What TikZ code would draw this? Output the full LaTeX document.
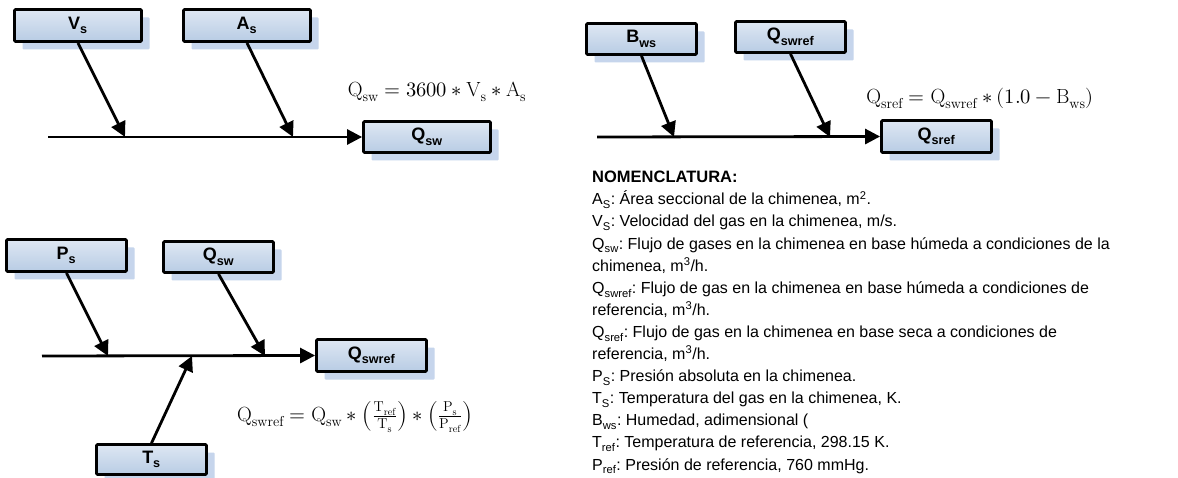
\documentclass[tikz,border=0pt]{standalone}
\usepackage{fontspec}
\usepackage{unicode-math}
\setmathfont{Latin Modern Math}
\newfontfamily\arial{Liberation Sans}
\usetikzlibrary{arrows.meta,shadows,backgrounds}
\definecolor{boxtop}{RGB}{222,231,243}
\definecolor{boxbot}{RGB}{184,204,228}
\definecolor{shadowblue}{RGB}{198,213,236}
\frenchspacing
\tikzset{
  box/.style={draw=black, line width=2.8pt, rounded corners=1pt, top color=boxtop, bottom color=boxbot,
    minimum height=31pt, inner sep=0pt, font=\arial\bfseries\fontsize{18}{20}\selectfont,
    drop shadow={shadow xshift=8pt, shadow yshift=-8pt, fill=shadowblue, opacity=1}},
  arr/.style={line width=2.8pt, -{Triangle[length=15pt,width=15pt]}},
  shad/.style={draw=shadowblue, line width=4pt, -{Triangle[length=15pt,width=17pt]},
    transform canvas={shift={(7pt,-7pt)}}},
  fml/.style={font=\fontsize{20.5}{24}\selectfont, inner sep=0pt},
  nom/.style={font=\arial\fontsize{16}{22.1}\selectfont, align=left, inner sep=0pt, anchor=north west},
}
\begin{document}
\begin{tikzpicture}[x=1pt,y=-1pt]
\fill[white] (0,0) rectangle (1178,478);
\useasboundingbox (0,0) rectangle (1178,478);

% ---------- diagram 1 ----------
\node[box, minimum width=127pt, minimum height=32pt] (Vs) at (78,25.5) {V\textsubscript{s}};
\node[box, minimum width=127pt, minimum height=32pt] (As) at (247,25.5) {A\textsubscript{s}};
\node[box, minimum width=127pt] (Qsw) at (427,137) {Q\textsubscript{sw}};
\coordinate (l1s) at (48,137);
\coordinate (j1a) at (125,137);
\coordinate (j1b) at (293,137);
\draw[arr] (Vs.south) -- (j1a);
\draw[arr] (As.south) -- (j1b);
\draw[arr] (l1s) -- (Qsw.west);
\node[fml] (f1) at (437,92) {$\mathrm{Q_{sw}} = 3600 * \mathrm{V_s} * \mathrm{A_s}$};

% ---------- diagram 2 ----------
\node[box, minimum width=110pt] (Bws) at (641.5,39) {B\textsubscript{ws}};
\node[box, minimum width=110pt] (Qswrefa) at (790.5,37) {Q\textsubscript{swref}};
\node[box, minimum width=110pt, minimum height=32pt] (Qsref) at (936.5,136.5) {Q\textsubscript{sref}};
\coordinate (l2s) at (597,137);
\coordinate (j2a) at (674,137);
\coordinate (j2b) at (830,137);
\draw[arr] (Bws.south) -- (j2a);
\draw[arr] (Qswrefa.south) -- (j2b);
\draw[arr] (l2s) -- (Qsref.west);
\node[fml] (f2) at (980,98) {$\mathrm{Q_{sref}} = \mathrm{Q_{swref}} * (1.0 - \mathrm{B_{ws}})$};

% ---------- diagram 3 ----------
\node[box, minimum width=120pt, minimum height=32pt] (Ps) at (66.5,255.5) {P\textsubscript{s}};
\node[box, minimum width=110pt] (Qswb) at (218.5,257) {Q\textsubscript{sw}};
\node[box, minimum width=110pt, minimum height=32pt] (Qswrefb) at (371.5,355.5) {Q\textsubscript{swref}};
\node[box, minimum width=110pt, minimum height=30pt] (Ts) at (151.5,459.5) {T\textsubscript{s}};
\coordinate (l3s) at (42,356);
\coordinate (j3a) at (108,356);
\coordinate (j3b) at (265,356);
\coordinate (j3c) at (192,356);
\draw[arr] (Ps.south) -- (j3a);
\draw[arr] (Qswb.south) -- (j3b);
\draw[arr] (Ts.north) -- (j3c);
\draw[arr] (l3s) -- (Qswrefb.west);
\node[fml] (f3) at (355,417) {$\mathrm{Q_{swref}} = \mathrm{Q_{sw}} * \left(\frac{\mathrm{T_{ref}}}{\mathrm{T_s}}\right) * \left(\frac{\mathrm{P_s}}{\mathrm{P_{ref}}}\right)$};

% ---------- shadows of connectors ----------
\begin{pgfonlayer}{background}
\draw[shad] (Vs.south) -- (j1a);
\draw[shad] (As.south) -- (j1b);
\draw[shad] (l1s) -- (Qsw.west);
\draw[shad] (Bws.south) -- (j2a);
\draw[shad] (Qswrefa.south) -- (j2b);
\draw[shad] (l2s) -- (Qsref.west);
\draw[shad] (Ps.south) -- (j3a);
\draw[shad] (Qswb.south) -- (j3b);
\draw[shad] (Ts.north) -- (j3c);
\draw[shad] (l3s) -- (Qswrefb.west);
\end{pgfonlayer}

% ---------- nomenclature ----------
\node[nom] (nomen) at (592,171) {{\fontsize{16.5}{22.1}\selectfont\bfseries NOMENCLATURA:}\\
A\textsubscript{S}: Área seccional de la chimenea, m\textsuperscript{2}.\\
V\textsubscript{S}: Velocidad del gas en la chimenea, m/s.\\
Q\textsubscript{sw}: Flujo de gases en la chimenea en base húmeda a condiciones de la\\
chimenea, m\textsuperscript{3}/h.\\
Q\textsubscript{swref}: Flujo de gas en la chimenea en base húmeda a condiciones de\\
referencia, m\textsuperscript{3}/h.\\
Q\textsubscript{sref}: Flujo de gas en la chimenea en base seca a condiciones de\\
referencia, m\textsuperscript{3}/h.\\
P\textsubscript{S}: Presión absoluta en la chimenea.\\
T\textsubscript{S}: Temperatura del gas en la chimenea, K.\\
B\textsubscript{ws}: Humedad, adimensional (\\
T\textsubscript{ref}: Temperatura de referencia, 298.15 K.\\
P\textsubscript{ref}: Presión de referencia, 760 mmHg.};
\end{tikzpicture}
\end{document}
